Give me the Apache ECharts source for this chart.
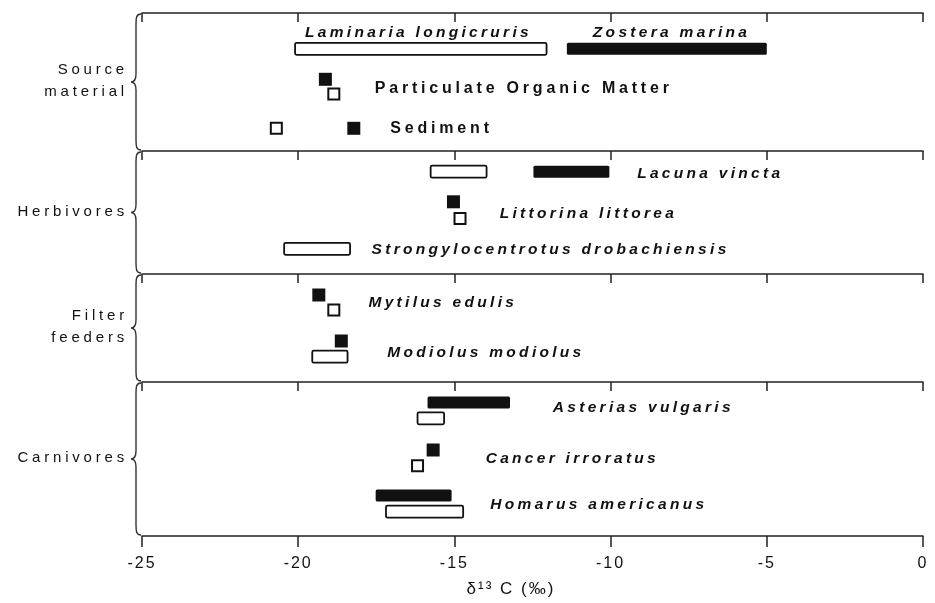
<!DOCTYPE html>
<html><head><meta charset="utf-8">
<script src="https://cdn.jsdelivr.net/npm/echarts@6/dist/echarts.min.js"></script>
<style>html,body{margin:0;padding:0;background:#fff}#c{width:935px;height:603px}</style>
</head><body><div id="c"></div>
<script>
// ---------------- DATA ----------------
const groupNames = ['Source\nmaterial', 'Herbivores', 'Filter\nfeeders', 'Carnivores'];
const xTicks = [-25, -20, -15, -10, -5, 0];
const axisTitle = 'δ¹³ C (‰)';
const taxa = ['Laminaria longicruris', 'Zostera marina', 'Particulate Organic Matter', 'Sediment',
  'Lacuna vincta', 'Littorina littorea', 'Strongylocentrotus drobachiensis',
  'Mytilus edulis', 'Modiolus modiolus',
  'Asterias vulgaris', 'Cancer irroratus', 'Homarus americanus'];
const taxonGroup = [0, 0, 0, 0, 1, 1, 1, 2, 2, 3, 3, 3];
// filled (black) marks: range [low, high] or single value (high = null)
const filledLow  = [null, -11.4, -19.13, -18.22, -12.47, -15.03, null, -19.34, -18.62, -15.86, -15.68, -17.52];
const filledHigh = [null, -5.0, null, null, -10.04, null, null, null, null, -13.22, null, -15.09];
// open (white) marks
const openLow  = [-20.1, null, -18.86, -20.7, -15.76, -14.82, -20.45, -18.86, -19.55, -16.18, -16.18, -17.19];
const openHigh = [-12.05, null, null, null, -13.97, null, -18.34, null, -18.42, -15.33, null, -14.72];

// ---------------- LAYOUT (not data) ----------------
const panelLines = [13, 151, 274, 382, 536];           // px, panel borders
const rowFilled = [0, 35.8, 66.3, 115.3, 20.7, 50.8, 0, 21, 67, 20.5, 68, 113.5];   // px from panel top
const rowOpen   = [35.8, 0, 81, 115.3, 20.7, 67.5, 97.8, 36, 82.7, 36.3, 83.7, 129.7];
const labelX = [-16.15, -8.05, -17.55, -17.05, -9.15, -13.55, -17.65, -17.75, -17.15, -11.85, -14.0, -13.85];
const labelY = [19.3, 19.3, 75.3, 115.3, 23, 62.3, 98.3, 28.3, 78.3, 25.3, 76.3, 123];
const labelCentered = [true, true, false, false, false, false, false, false, false, false, false, false];
const labelUpright  = [false, false, true, true, false, false, false, false, false, false, false, false];

const FONT = '"Liberation Sans", Arial, Helvetica, sans-serif';
const INK = '#111';

// letter spacing for typewriter-like lettering of the original figure
const SPACED = new Map();
groupNames.forEach(g => g.split('\n').forEach(s => SPACED.set(s, 3.8)));
taxa.forEach((t, i) => SPACED.set(t, labelUpright[i] ? 3.8 : 3.3));
xTicks.forEach(t => SPACED.set(String(t), 2));
SPACED.set(axisTitle, 2);
(function () {
  const P = CanvasRenderingContext2D.prototype;
  const orig = P.fillText;
  P.fillText = function (t, x, y, w) {
    const sp = SPACED.get(t);
    if (sp != null && 'letterSpacing' in this) {
      const prev = this.letterSpacing;
      this.letterSpacing = sp + 'px';
      const r = (w === undefined) ? orig.call(this, t, x, y) : orig.call(this, t, x, y, w);
      this.letterSpacing = prev;
      return r;
    }
    return (w === undefined) ? orig.call(this, t, x, y) : orig.call(this, t, x, y, w);
  };
})();

const xmin = xTicks[0], xmax = xTicks[xTicks.length - 1], xint = xTicks[1] - xTicks[0];
const nP = groupNames.length;
const grids = [], xAxes = [], yAxes = [], series = [];
const axisLineStyle = { color: '#222', width: 1.5 };

for (let p = 0; p < nP; p++) {
  const top = panelLines[p], h = panelLines[p + 1] - panelLines[p];
  grids.push({ left: 142, right: 12, top: top, height: h });
  xAxes.push({
    type: 'value', gridIndex: p, position: 'top', min: xmin, max: xmax, interval: xint,
    axisLine: { show: true, lineStyle: axisLineStyle },
    axisTick: { show: true, inside: true, length: 9, lineStyle: axisLineStyle },
    axisLabel: { show: false }, splitLine: { show: false }
  });
  yAxes.push({ type: 'value', gridIndex: p, min: 0, max: h, inverse: true, show: false });
}
// bottom labelled axis
xAxes.push({
  type: 'value', gridIndex: nP - 1, position: 'bottom', min: xmin, max: xmax, interval: xint,
  axisLine: { show: true, lineStyle: axisLineStyle },
  axisTick: { show: true, inside: false, length: 11, lineStyle: axisLineStyle },
  axisLabel: { show: true, fontSize: 16, color: INK, fontFamily: FONT, margin: 20 },
  splitLine: { show: false }
});

for (let p = 0; p < nP; p++) {
  const idx = taxa.map((_, i) => i).filter(i => taxonGroup[i] === p);
  const fPts = idx.filter(i => filledLow[i] != null && filledHigh[i] == null).map(i => [filledLow[i], rowFilled[i]]);
  const oPts = idx.filter(i => openLow[i] != null && openHigh[i] == null).map(i => [openLow[i], rowOpen[i]]);
  const bars = [];
  idx.forEach(i => {
    if (openLow[i] != null && openHigh[i] != null) bars.push([openLow[i], openHigh[i], rowOpen[i], 0]);
    if (filledLow[i] != null && filledHigh[i] != null) bars.push([filledLow[i], filledHigh[i], rowFilled[i], 1]);
  });
  const labs = idx.map(i => [labelX[i], labelY[i], i]);

  series.push({
    type: 'custom', xAxisIndex: p, yAxisIndex: p, data: bars, silent: true,
    renderItem: function (params, api) {
      const a = api.coord([api.value(0), api.value(2)]);
      const b = api.coord([api.value(1), api.value(2)]);
      const filled = api.value(3) === 1;
      return {
        type: 'rect',
        shape: { x: a[0], y: a[1] - 6, width: b[0] - a[0], height: 12, r: filled ? 1.5 : 1.5 },
        style: filled ? { fill: INK } : { fill: '#fff', stroke: INK, lineWidth: 1.8 }
      };
    }
  });
  series.push({
    type: 'scatter', xAxisIndex: p, yAxisIndex: p, data: fPts, symbol: 'rect', symbolSize: 13,
    itemStyle: { color: INK, opacity: 1 }, silent: true
  });
  series.push({
    type: 'scatter', xAxisIndex: p, yAxisIndex: p, data: oPts, symbol: 'rect', symbolSize: 11,
    itemStyle: { color: '#fff', borderColor: INK, borderWidth: 2, opacity: 1 }, silent: true
  });
  series.push({
    type: 'custom', xAxisIndex: p, yAxisIndex: p, data: labs, silent: true,
    renderItem: function (params, api) {
      const i = api.value(2);
      const c = api.coord([api.value(0), api.value(1)]);
      const al = labelCentered[i] ? 'center' : 'left';
      return {
        type: 'text', x: c[0], y: c[1],
        style: {
          text: taxa[i], fill: INK,
          font: (labelUpright[i] ? 'bold 16px ' : 'italic bold 15.5px ') + FONT,
          align: al, verticalAlign: 'middle'
        }
      };
    }
  });
}

// braces and group labels (decoration, drawn in pixel space)
series.push({
  type: 'custom', coordinateSystem: 'none', silent: true,
  data: groupNames.map((_, p) => [p]),
  renderItem: function (params, api) {
    const p = api.value(0);
    const t = panelLines[p] + 1, b = panelLines[p + 1] - 1, m = (t + b) / 2;
    const xe = 141, xb = 136, xc = 131;
    return {
      type: 'group',
      children: [{
        type: 'path',
        shape: {
          pathData: `M${xe} ${t} C${xb} ${t} ${xb} ${t + 4} ${xb} ${t + 12} L${xb} ${m - 8} C${xb} ${m - 3} ${xb - 2} ${m} ${xc} ${m} C${xb - 2} ${m} ${xb} ${m + 3} ${xb} ${m + 8} L${xb} ${b - 12} C${xb} ${b - 4} ${xb} ${b} ${xe} ${b}`
        },
        style: { fill: null, stroke: '#333', lineWidth: 1.4 }
      }, {
        type: 'text', x: 128, y: m - 1,
        style: {
          text: groupNames[p], fill: INK, font: '15px ' + FONT, lineHeight: 22,
          align: 'right', verticalAlign: 'middle'
        }
      }]
    };
  }
});

const chart = echarts.init(document.getElementById('c'), null, { renderer: 'canvas' });
chart.setOption({
  animation: false,
  backgroundColor: '#fff',
  grid: grids, xAxis: xAxes, yAxis: yAxes, series: series,
  graphic: { elements: [{
    type: 'text', x: 511, y: 589, silent: true,
    style: { text: axisTitle, fill: INK, font: '17px ' + FONT, align: 'center', verticalAlign: 'middle' }
  }] }
});
</script>
</body></html>
